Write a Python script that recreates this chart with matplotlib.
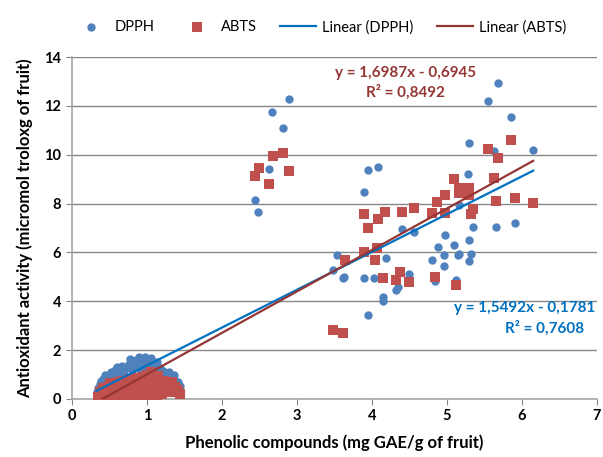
import matplotlib.pyplot as plt
import numpy as np

# phenolic compounds (x) and antioxidant activity (y)
dpph_x = [0.33, 0.35, 0.38, 0.40, 0.42, 0.44, 0.45, 0.48, 0.50, 0.52, 0.55, 0.57, 0.58, 0.60,
          0.62, 0.65, 0.67, 0.70, 0.72, 0.74, 0.76, 0.78, 0.80, 0.82, 0.84, 0.86, 0.88, 0.90,
          0.92, 0.94, 0.96, 0.98, 1.00, 1.02, 1.04, 1.06, 1.08, 1.10, 1.12, 1.15, 1.18, 1.20,
          1.23, 1.26, 1.30, 1.33, 1.38, 1.42, 1.44, 0.50, 0.70, 0.90, 1.00,
          0.39, 0.47, 0.54, 0.63, 0.69, 0.79, 0.85, 0.95, 1.05, 1.13, 1.21, 1.28, 1.36, 1.40,
          2.44, 2.48, 2.63, 2.67, 2.81, 2.89,
          3.48, 3.53, 3.61, 3.63, 3.89, 3.89, 3.95, 3.95, 4.03, 4.08, 4.15, 4.15, 4.19, 4.32,
          4.35, 4.40, 4.49, 4.56, 4.80, 4.84, 4.88, 4.96, 4.96, 4.97, 5.09, 5.12, 5.15, 5.16,
          5.16, 5.28, 5.29, 5.30, 5.30, 5.32, 5.35, 5.55, 5.63, 5.65, 5.68, 5.85, 5.91, 6.15]
dpph_y = [0.30, 0.45, 0.60, 0.40, 0.80, 1.00, 0.55, 0.90, 0.70, 1.10, 0.95, 1.20, 0.60, 1.30,
          0.85, 1.15, 1.35, 1.00, 1.25, 0.70, 1.45, 1.65, 1.20, 1.50, 0.90, 1.60, 1.35, 1.70,
          1.10, 1.55, 1.40, 1.72, 1.25, 1.60, 1.45, 1.68, 1.50, 1.20, 1.35, 1.10, 1.25, 0.90,
          1.05, 0.95, 1.10, 0.80, 0.75, 0.70, 0.55, 0.35, 0.50, 0.60, 0.80,
          0.75, 0.95, 0.80, 1.05, 1.20, 1.40, 1.30, 1.65, 1.35, 1.50, 1.15, 0.85, 1.00, 0.60,
          8.15, 7.65, 9.41, 11.75, 11.10, 12.28,
          5.28, 5.89, 4.95, 5.00, 4.95, 8.47, 9.37, 3.45, 4.96, 9.50, 4.18, 4.00, 5.77, 4.46,
          4.58, 6.96, 5.12, 6.84, 5.69, 4.83, 6.22, 5.89, 5.44, 6.71, 6.30, 4.87, 5.89, 7.94,
          5.93, 9.20, 10.47, 6.50, 5.66, 5.93, 7.04, 12.20, 10.15, 7.04, 12.93, 11.55, 7.20, 10.19]

abts_x = [0.35, 0.37, 0.40, 0.42, 0.44, 0.46, 0.48, 0.50, 0.52, 0.55, 0.57, 0.60, 0.62, 0.64,
          0.66, 0.68, 0.70, 0.72, 0.74, 0.76, 0.78, 0.80, 0.82, 0.84, 0.86, 0.88, 0.90, 0.92,
          0.94, 0.96, 0.98, 1.00, 1.02, 1.04, 1.06, 1.08, 1.10, 1.12, 1.15, 1.18, 1.20, 1.23,
          1.26, 1.30, 1.32, 1.37, 1.42, 1.44, 0.58, 0.85, 1.00, 1.14, 0.45,
          0.39, 0.51, 0.61, 0.71, 0.81, 0.91, 1.03, 1.09, 1.17, 1.25, 1.34, 0.67, 0.77, 0.97,
          2.44, 2.49, 2.63, 2.68, 2.81, 2.89,
          3.48, 3.61, 3.64, 3.89, 3.89, 3.95, 4.04, 4.07, 4.08, 4.15, 4.17, 4.32, 4.37, 4.40,
          4.49, 4.56, 4.80, 4.84, 4.87, 4.97, 4.97, 5.09, 5.12, 5.16, 5.16, 5.29, 5.30, 5.32,
          5.35, 5.55, 5.63, 5.65, 5.68, 5.85, 5.91, 6.15]
abts_y = [0.10, 0.30, 0.00, 0.45, 0.20, 0.05, 0.50, 0.30, 0.10, 0.60, 0.35, 0.15, 0.70, 0.45,
          0.05, 0.75, 0.30, 0.55, 0.10, 0.80, 0.40, 0.60, 0.20, 0.85, 0.50, 0.30, 0.75, 0.10,
          0.90, 0.55, 0.35, 1.00, 0.70, 0.20, 1.10, 0.45, 0.85, 0.30, 0.95, 0.60, 0.20, 0.75,
          0.40, 0.65, 0.30, 0.50, 0.35, 0.20, 0.00, 0.05, 0.15, 0.10, 0.35,
          0.20, 0.65, 0.40, 0.65, 0.10, 0.45, 0.35, 0.95, 0.45, 0.55, 0.70, 0.25, 0.65, 0.80,
          9.13, 9.46, 8.80, 9.95, 10.07, 9.33,
          2.82, 2.70, 5.69, 6.02, 7.57, 7.00, 5.69, 6.18, 7.37, 4.95, 7.65, 4.87, 5.20, 7.65,
          4.79, 7.82, 7.61, 5.00, 8.06, 8.35, 7.60, 9.00, 4.67, 8.63, 8.43, 8.64, 8.35, 7.57,
          7.78, 10.23, 9.05, 8.10, 9.87, 10.60, 8.22, 8.02]

# trendline coefficients shown on the chart
dpph_fit = [1.5492, -0.1781]
abts_fit = [1.6987, -0.6945]

fig = plt.figure(figsize=(6.03, 4.57), dpi=100)
ax = fig.add_axes([0.119, 0.127, 0.871, 0.748])

ax.scatter(dpph_x, dpph_y, s=36, marker='o', color='#4F81BD', label='DPPH', zorder=3, linewidths=0)
ax.scatter(abts_x, abts_y, s=44, marker='s', color='#C0504D', label='ABTS', zorder=3, linewidths=0)

xl = np.array([min(dpph_x), max(dpph_x)])
ax.plot(xl, np.polyval(dpph_fit, xl), color='#0070C0', lw=1.6, label='Linear (DPPH)', zorder=4)
xl = np.array([0.41, max(abts_x)])
ax.plot(xl, np.polyval(abts_fit, xl), color='#943634', lw=1.6, label='Linear (ABTS)', zorder=4)

ax.set_xlim(0, 7)
ax.set_ylim(0, 14)
ax.set_xticks(range(0, 8))
ax.set_yticks(range(0, 15, 2))
ax.grid(axis='y', color='#868686', lw=1)
ax.set_axisbelow(True)
for s in ['top', 'right']:
    ax.spines[s].set_visible(False)
for s in ['left', 'bottom']:
    ax.spines[s].set_color('#A6A6A6')
    ax.spines[s].set_linewidth(1.2)
ax.tick_params(colors='#868686', length=4, labelcolor='black', labelsize=10.5)
for lab in ax.get_xticklabels() + ax.get_yticklabels():
    lab.set_fontweight('bold')
    lab.set_family('Lato')

ax.set_xlabel('Phenolic compounds (mg GAE/g of fruit)', fontsize=12, fontweight='bold', family='Lato', labelpad=8)
ax.set_ylabel('Antioxidant activity (micromol troloxg of fruit)', fontsize=12, fontweight='bold', family='Lato', labelpad=8)

ax.text(4.45, 13.35, 'y = 1,6987x - 0,6945', color='#953735', fontsize=11, fontweight='bold',
        family='Lato', ha='center', va='center')
ax.text(4.45, 12.55, 'R² = 0,8492', color='#953735', fontsize=11, fontweight='bold',
        family='Lato', ha='center', va='center')
ax.text(6.98, 3.73, 'y = 1,5492x - 0,1781', color='#0070C0', fontsize=11, fontweight='bold',
        family='Lato', ha='right', va='center')
ax.text(6.3, 2.88, 'R² = 0,7608', color='#0070C0', fontsize=11, fontweight='bold',
        family='Lato', ha='center', va='center')

fig.legend(loc='upper center', bbox_to_anchor=(0.53, 0.985), ncol=4, frameon=False,
           prop={'family': 'Lato', 'size': 10.5}, handlelength=2.5, handletextpad=0.4,
           columnspacing=1.6)

fig.savefig('out.png', dpi=100)
